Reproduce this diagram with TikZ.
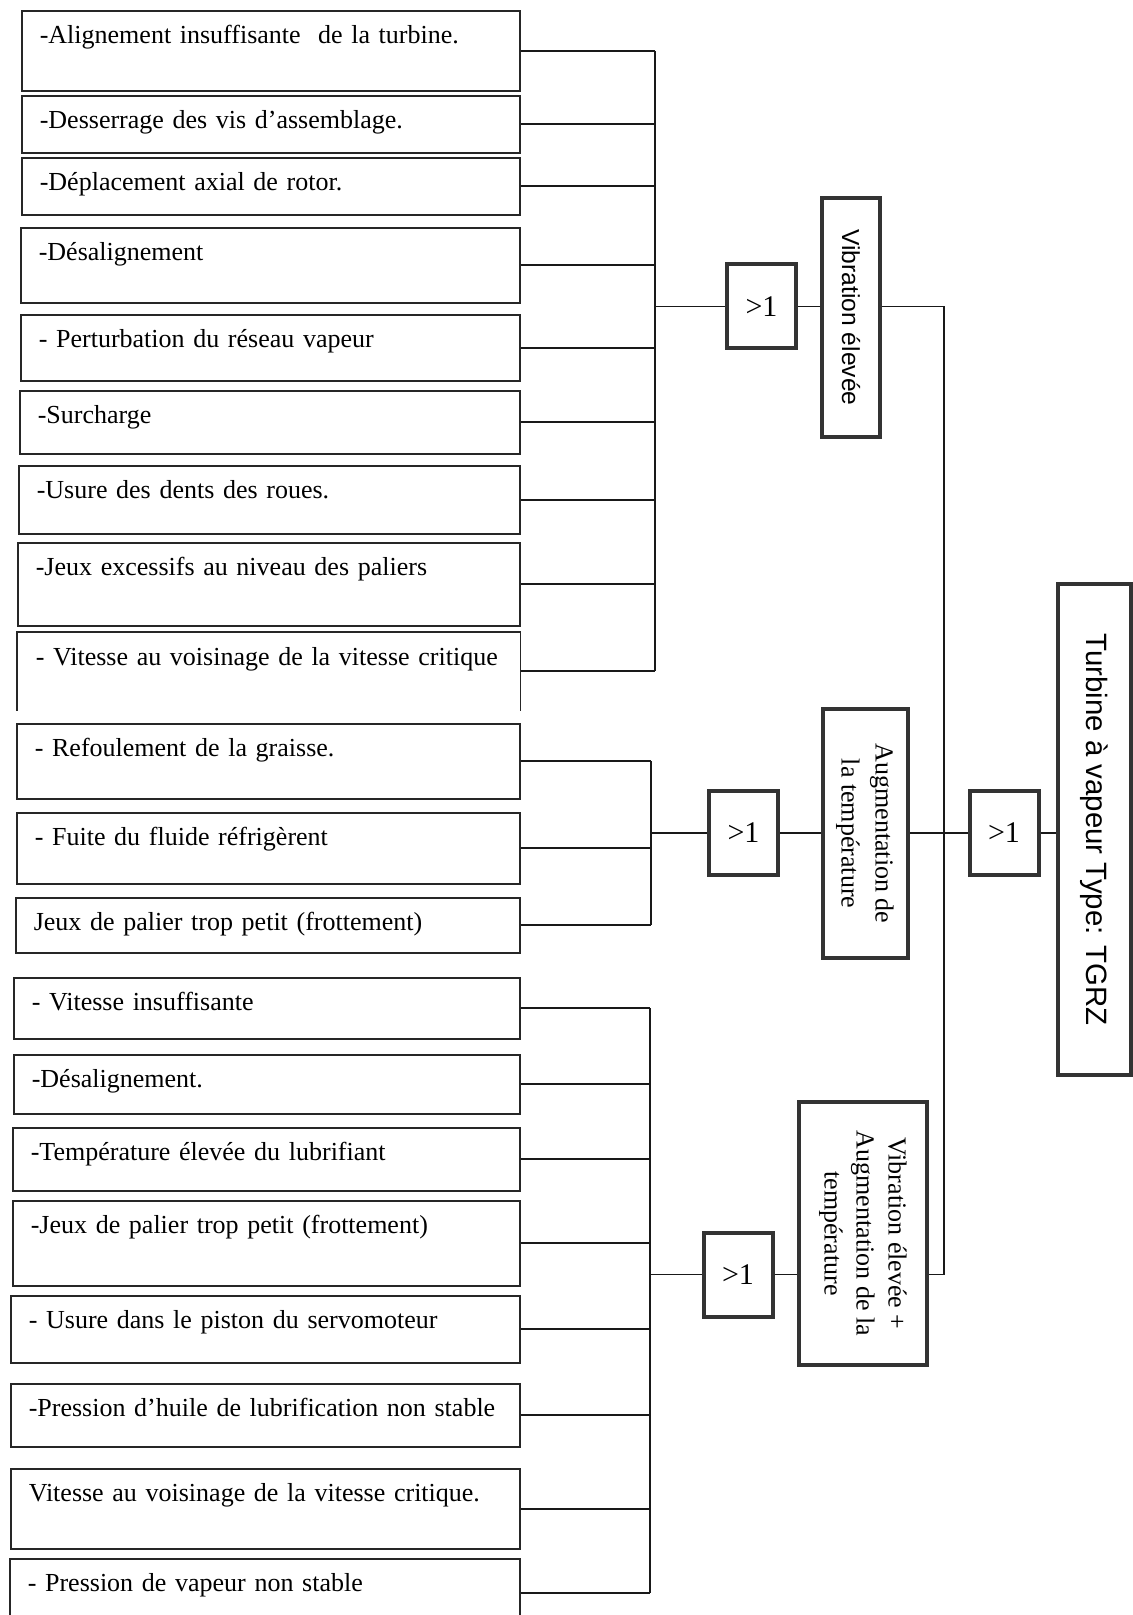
\documentclass[tikz,border=0pt]{standalone}
\usepackage{fontspec}
\setmainfont{Liberation Serif}
\setsansfont{Liberation Sans}
\usetikzlibrary{calc}

\tikzset{
  link/.style={draw=black!90, line width=0.9pt},
  cause/.style={draw=black!85, line width=0.8pt, rectangle, anchor=north west,
    inner xsep=9pt, inner ysep=0pt, text height=16.5pt, align=left,
    font=\fontsize{13}{15.6}\selectfont},
  gate/.style={draw=black!80, line width=2pt, rectangle, inner sep=0pt,
    minimum width=34.5pt, minimum height=42pt, font=\fontsize{15}{18}\selectfont},
  event/.style={draw=black!80, line width=2.2pt, rectangle, inner sep=0pt},
}

% [extra options], name, left x, top y, bottom y, text
\newcommand\causebox[6][]{%
  \pgfmathsetmacro\cbw{(519-#3)*0.5-18}%
  \pgfmathsetmacro\cbd{(#5-#4-33)*0.5}%
  \node[cause, text width=\cbw pt, text depth=\cbd pt, #1] (#2) at (#3,#4) {\mbox{#6}};%
}

\begin{document}
\begin{tikzpicture}[x=0.5pt, y=-0.5pt]
\useasboundingbox (0,0) rectangle (1133,1615);
\fill[white] (0,0) rectangle (1133,1615);

% causes of high vibration
\causebox{c1}{21}{10}{90}{-Alignement insuffisante \ de la turbine.}
\causebox{c2}{21}{95}{152}{-Desserrage des vis d'assemblage.}
\causebox{c3}{21}{157}{214}{-Déplacement axial de rotor.}
\causebox{c4}{20}{227}{302}{-Désalignement}
\causebox{c5}{20}{314}{380}{- Perturbation du réseau vapeur}
\causebox{c6}{19}{390}{453}{-Surcharge}
\causebox{c7}{18}{465}{533}{-Usure des dents des roues.}
\causebox{c8}{17}{542}{625}{-Jeux excessifs au niveau des paliers}
\causebox[draw=none]{c9}{17}{632}{709}{- Vitesse au voisinage de la vitesse critique}
\draw[black!85, line width=0.8pt] (c9.south west) -- (c9.north west) -- (c9.north east) -- (c9.south east);

% causes of temperature rise
\causebox{c10}{16}{723}{798}{- Refoulement de la graisse.}
\causebox{c11}{16}{812}{883}{- Fuite du fluide réfrigèrent}
\causebox{c12}{15}{897}{952}{Jeux de palier trop petit (frottement)}

% causes of combined vibration and temperature rise
\causebox{c13}{13}{977}{1038}{- Vitesse insuffisante}
\causebox{c14}{13}{1054}{1113}{-Désalignement.}
\causebox{c15}{12}{1127}{1190}{-Température élevée du lubrifiant}
\causebox{c16}{12}{1200}{1285}{-Jeux de palier trop petit (frottement)}
\causebox{c17}{10}{1295}{1362}{- Usure dans le piston du servomoteur}
\causebox{c18}{10}{1383}{1446}{-Pression d'huile de lubrification non stable}
\causebox{c19}{10}{1468}{1548}{Vitesse au voisinage de la vitesse critique.}
\causebox{c20}{9}{1558}{1626}{- Pression de vapeur non stable}

% OR gates
\node[gate] (g1) at (761.5,306.5) {>1};
\node[gate] (g2) at (743.5,833) {>1};
\node[gate] (g3) at (1004,833) {>1};
\node[gate] (g4) at (738,1274.5) {>1};

% intermediate and top events
\node[event, minimum width=29pt, minimum height=119.5pt] (vib) at (851,317.5)
  {\rotatebox{-90}{\sffamily\fontsize{12.3}{14}\selectfont Vibration élevée}};
\node[event, minimum width=42.5pt, minimum height=124.5pt] (aug) at (865.5,833.5)
  {\rotatebox{-90}{\fontsize{13}{17}\selectfont\begin{tabular}{@{}c@{}}Augmentation de\\la température\end{tabular}}};
\node[event, minimum width=64pt, minimum height=131.5pt] (vat) at (863,1233.5)
  {\rotatebox{-90}{\fontsize{13}{16}\selectfont\begin{tabular}{@{}c@{}}Vibration élevée +\\Augmentation de la\\température\end{tabular}}};
\node[event, minimum width=36.5pt, minimum height=245.5pt] (tgrz) at (1094.5,829.5)
  {\rotatebox{-90}{\sffamily\fontsize{14.7}{17}\selectfont Turbine à vapeur Type: TGRZ}};

% collecting buses
\coordinate (b1) at (655,0);
\coordinate (b2) at (651,0);
\coordinate (b3) at (650,0);
\coordinate (j) at (944,833);

\foreach \i in {1,...,9} { \draw[link] (c\i.east) -- (c\i.east -| b1); }
\draw[link] (c1.east -| b1) -- (c9.east -| b1);
\draw[link] (g1.west -| b1) -- (g1.west);

\foreach \i in {10,11,12} { \draw[link] (c\i.east) -- (c\i.east -| b2); }
\draw[link] (c10.east -| b2) -- (c12.east -| b2);
\draw[link] (g2.west -| b2) -- (g2.west);

\foreach \i in {13,...,20} { \draw[link] (c\i.east) -- (c\i.east -| b3); }
\draw[link] (c13.east -| b3) -- (c20.east -| b3);
\draw[link] (g4.west -| b3) -- (g4.west);

% gates to events
\draw[link] (g1.east) -- (g1.east -| vib.west);
\draw[link] (g2.east) -- (g2.east -| aug.west);
\draw[link] (g4.east) -- (g4.east -| vat.west);

% events to the top gate
\draw[link] (vib.east |- g1.east) -| (j);
\draw[link] (vat.east |- g4.east) -| (j);
\draw[link] (aug.east |- g3.west) -- (g3.west);
\draw[link] (g3.east) -- (g3.east -| tgrz.west);
\end{tikzpicture}
\end{document}
